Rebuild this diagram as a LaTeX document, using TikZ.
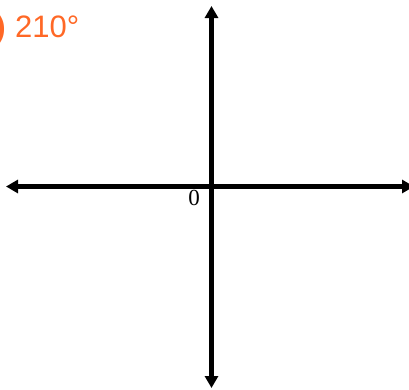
\documentclass[tikz,border=0pt]{standalone}
\usepackage{fontspec}
\setmainfont{Liberation Serif}
\newfontfamily\labelfont{Liberation Sans}
\usetikzlibrary{arrows.meta,positioning}
\definecolor{angleorange}{RGB}{255,104,38}

\begin{document}
\begin{tikzpicture}[
x=1pt, y=-1pt,
axis/.style={{Triangle[length=12pt,width=13pt]}-{Triangle[length=12pt,width=13pt]}, line width=5pt},
anglelabel/.style={text=angleorange, font=\labelfont\fontsize{31}{31}\selectfont, inner sep=0pt},
originlabel/.style={font=\fontsize{23}{23}\selectfont, inner sep=0pt}
]
\useasboundingbox (0,0) rectangle (409,389);
\coordinate (west) at (6,186.5);
\coordinate (east) at (414,186.5);
\coordinate (north) at (211.5,6);
\coordinate (south) at (211.5,388);
\draw[axis] (west) -- (east);
\draw[axis] (north) -- (south);
\node[originlabel, anchor=base east] (origin) at (200,205) {0};
\node[anglelabel, anchor=base west] (angle) at (15,37.5) {210°};
\node[anglelabel, anchor=base east, font=\labelfont\bfseries\fontsize{31}{31}\selectfont] (paren) at (6,37.5) {)};
\end{tikzpicture}
\end{document}
